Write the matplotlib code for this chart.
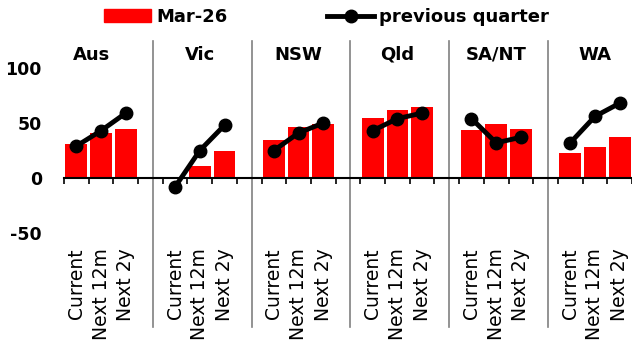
import numpy as np
import matplotlib.pyplot as plt
from matplotlib.patches import Patch
from matplotlib.lines import Line2D

plt.rcParams['font.family'] = ['DejaVu Sans']

# datos
regions = ['Aus', 'Vic', 'NSW', 'Qld', 'SA/NT', 'WA']
periods = ['Current', 'Next 12m', 'Next 2y']
mar26 = [
    [31, 41, 45],   # Aus
    [0, 11, 25],    # Vic
    [35, 46, 49],   # NSW
    [55, 62, 65],   # Qld
    [44, 49, 45],   # SA/NT
    [23, 28, 37],   # WA
]
prev_quarter = [
    [29, 43, 59],
    [-8, 25, 48],
    [25, 41, 50],
    [43, 54, 59],
    [54, 32, 37],
    [32, 56, 68],
]
yticks = [100, 50, 0, -50]

red = '#ff0000'
n_per = len(periods)
step = n_per + 1  # una posicion vacia entre grupos
n_slots = len(regions) * step - 1

fig = plt.figure(figsize=(6.32, 3.45), dpi=100)
ax = fig.add_axes([64 / 632, 1 - 244 / 345, 1 - 64 / 632, (244 - 40.5) / 345])

ymin, ymax = -60, 125
for g, reg in enumerate(regions):
    x = g * step + np.arange(n_per)
    ax.bar(x, mar26[g], width=0.88, color=red, zorder=2)
    ax.plot(x, prev_quarter[g], color='black', lw=3.5, marker='o', ms=9, zorder=3)
    ax.text(x.mean() - (0.4 if g == 0 else 0), 112, reg, ha='center', va='center',
            fontsize=13, fontweight='bold')
    for xi, lab in zip(x, periods):
        ax.annotate(lab, xy=(xi, 0), xycoords=('data', 'axes fraction'),
                    xytext=(0, -3), textcoords='offset points',
                    rotation=90, ha='center', va='top', fontsize=13.5)
    if g < len(regions) - 1:
        sx = g * step + n_per + 0.1
        ax.plot([sx, sx], [ymax, -135], color='#808080', lw=1.2, clip_on=False, zorder=1)

ax.set_xlim(-0.5, n_slots - 0.5)
ax.set_ylim(ymin, ymax)
ax.set_yticks(yticks)
ax.set_yticklabels([str(v) for v in yticks], fontsize=12.5, fontweight='bold')
ax.tick_params(axis='y', length=0, pad=16)

# eje x en cero con marcas entre categorias
ax.spines['bottom'].set_position(('data', 0))
ax.spines['bottom'].set_linewidth(1.5)
for s in ['top', 'right', 'left']:
    ax.spines[s].set_visible(False)
ax.set_xticks(np.arange(-0.5, n_slots, 1.0))
ax.set_xticklabels([])
ax.tick_params(axis='x', direction='out', length=4, width=1.2)

handles = [Patch(color=red), Line2D([], [], color='black', lw=3.5, marker='o', ms=9)]
fig.legend(handles, ['Mar-26', 'previous quarter'], loc='center', ncol=2,
           bbox_to_anchor=(0.517, 0.951), frameon=False, handlelength=2.6,
           columnspacing=5.5, handletextpad=0.3,
           prop={'size': 13, 'weight': 'bold'})

fig.savefig('out.png', dpi=100)
